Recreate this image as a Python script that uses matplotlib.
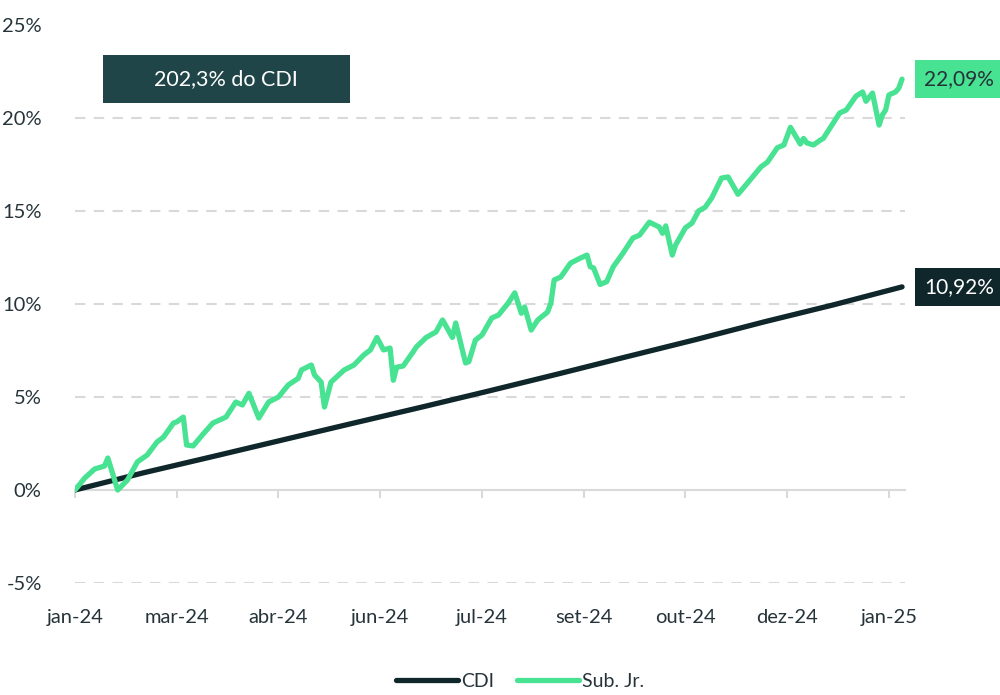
import matplotlib
matplotlib.use("Agg")
import matplotlib.pyplot as plt
from matplotlib.patches import Rectangle

# trading-day index of each vertex and accumulated return (%)
sub_days = [0, 2, 3, 6, 9, 10, 13, 16, 19, 22, 25, 27, 30, 31, 33, 34, 36, 39,
            42, 46, 49, 51, 53, 56, 59, 62, 65, 68, 69, 72, 73, 75, 76, 78,
            82, 85, 88, 90, 92, 94, 96, 97, 98, 100, 103, 104, 107, 110, 112,
            115, 116, 119, 120, 122, 124, 127, 129, 132, 134, 136, 137, 139,
            141, 144, 145, 146, 148, 151, 154, 156, 157, 158, 160, 162, 164,
            167, 170, 172, 175, 178, 179, 180, 182, 183, 186, 188, 190, 192,
            194, 197, 199, 202, 203, 209, 211, 214, 216, 218, 221, 222, 223,
            225, 227, 228, 233, 235, 238, 240, 241, 243, 245, 246, 247, 248,
            250, 251, 252]
sub_jr = [0.0, 0.43, 0.65, 1.13, 1.29, 1.72, 0.0, 0.54, 1.51, 1.88, 2.58, 2.85,
          3.6, 3.66, 3.92, 2.42, 2.37, 3.0, 3.6, 3.92, 4.73, 4.57, 5.2, 3.87,
          4.73, 5.0, 5.65, 6.0, 6.45, 6.72, 6.18, 5.8, 4.46, 5.8, 6.45, 6.72,
          7.26, 7.53, 8.2, 7.53, 7.63, 5.9, 6.6, 6.67, 7.42, 7.69, 8.2, 8.5,
          9.14, 8.2, 8.98, 6.83, 6.9, 8.06, 8.33, 9.25, 9.4, 10.05, 10.6, 9.5,
          9.84, 8.6, 9.14, 9.57, 10.05, 11.29, 11.45, 12.2, 12.47, 12.63, 12.0,
          11.94, 11.05, 11.2, 12.0, 12.74, 13.55, 13.7, 14.4, 14.14, 13.8, 14.2,
          12.63, 13.17, 14.1, 14.35, 15.0, 15.2, 15.7, 16.77, 16.83, 15.9, 16.1,
          17.37, 17.63, 18.4, 18.55, 19.5, 18.6, 18.9, 18.66, 18.55, 18.8, 18.9,
          20.27, 20.43, 21.18, 21.4, 20.9, 21.34, 19.62, 20.16, 20.43, 21.24,
          21.4, 21.6, 22.09]

cdi_days = [0, 21, 42, 63, 84, 105, 126, 147, 168, 189, 210, 231, 252]
cdi = [0.0, 0.93, 1.80, 2.68, 3.56, 4.43, 5.32, 6.23, 7.16, 8.08, 9.04, 9.95, 10.92]

tick_days = [0, 31, 62, 93, 124, 155, 186, 217, 248]
tick_labels = ["jan-24", "mar-24", "abr-24", "jun-24", "jul-24",
               "set-24", "out-24", "dez-24", "jan-25"]
y_ticks = [-5, 0, 5, 10, 15, 20, 25]

GREEN = "#48e293"
DARK = "#0f272b"
BOX = "#1f4548"
TEXT = "#26343a"
GRID = "#d9d9d9"

plt.rcParams["font.family"] = ["Lato", "DejaVu Sans"]

fig = plt.figure(figsize=(10, 6.95), dpi=100)
ax = fig.add_axes([0.075, 1 - 583 / 695, 0.83, (583 - 25) / 695])

for v in y_ticks[:-1]:
    if v == 0:
        continue
    ax.axhline(v, color=GRID, lw=1.5, ls=(0, (5, 4)), zorder=0)

ax.plot(cdi_days, cdi, color=DARK, lw=3.8, solid_capstyle="round",
        solid_joinstyle="round", label="CDI", zorder=3)
ax.plot(sub_days, sub_jr, color=GREEN, lw=3.8, solid_capstyle="round",
        solid_joinstyle="round", label="Sub. Jr.", zorder=4)

ax.set_xlim(0, 252.9)
ax.set_ylim(-5, 25)
ax.set_yticks(y_ticks)
ax.set_yticklabels([f"{v}%" for v in y_ticks])
ax.set_xticks(tick_days)
ax.set_xticklabels(tick_labels)

for s in ["top", "right", "left"]:
    ax.spines[s].set_visible(False)
ax.spines["bottom"].set_position(("data", 0))
ax.spines["bottom"].set_color(GRID)
ax.spines["bottom"].set_linewidth(1.5)
ax.tick_params(axis="x", length=6, width=1.5, color=GRID, pad=80,
               labelsize=14.5, labelcolor=TEXT)
ax.tick_params(axis="y", length=0, pad=24, labelsize=14.5, labelcolor=TEXT)

# end-of-series labels
ax.annotate(f"{sub_jr[-1]:.2f}%".replace(".", ","), (sub_days[-1], sub_jr[-1]),
            xytext=(22, 0), textcoords="offset pixels", ha="left", va="center",
            fontsize=15, color="#263238", annotation_clip=False,
            bbox=dict(boxstyle="square,pad=0.42", fc=GREEN, ec="none"))
ax.annotate(f"{cdi[-1]:.2f}%".replace(".", ","), (cdi_days[-1], cdi[-1]),
            xytext=(22, 0), textcoords="offset pixels", ha="left", va="center",
            fontsize=15, color="white", annotation_clip=False,
            bbox=dict(boxstyle="square,pad=0.42", fc=DARK, ec="none"))

# summary box
fig.patches.append(Rectangle((103 / 1000, 1 - 103 / 695), 247 / 1000, 48 / 695,
                             transform=fig.transFigure, fc=BOX, ec="none"))
fig.text(226 / 1000, 1 - 79 / 695, "202,3% do CDI", color="white",
         fontsize=15.5, ha="center", va="center")

fig.legend(loc="center", bbox_to_anchor=(0.52, 0.02), ncol=2, frameon=False,
           fontsize=14, handlelength=3.2, handletextpad=0.15,
           columnspacing=1.2, labelcolor=TEXT)

fig.savefig("out.png", dpi=100)
